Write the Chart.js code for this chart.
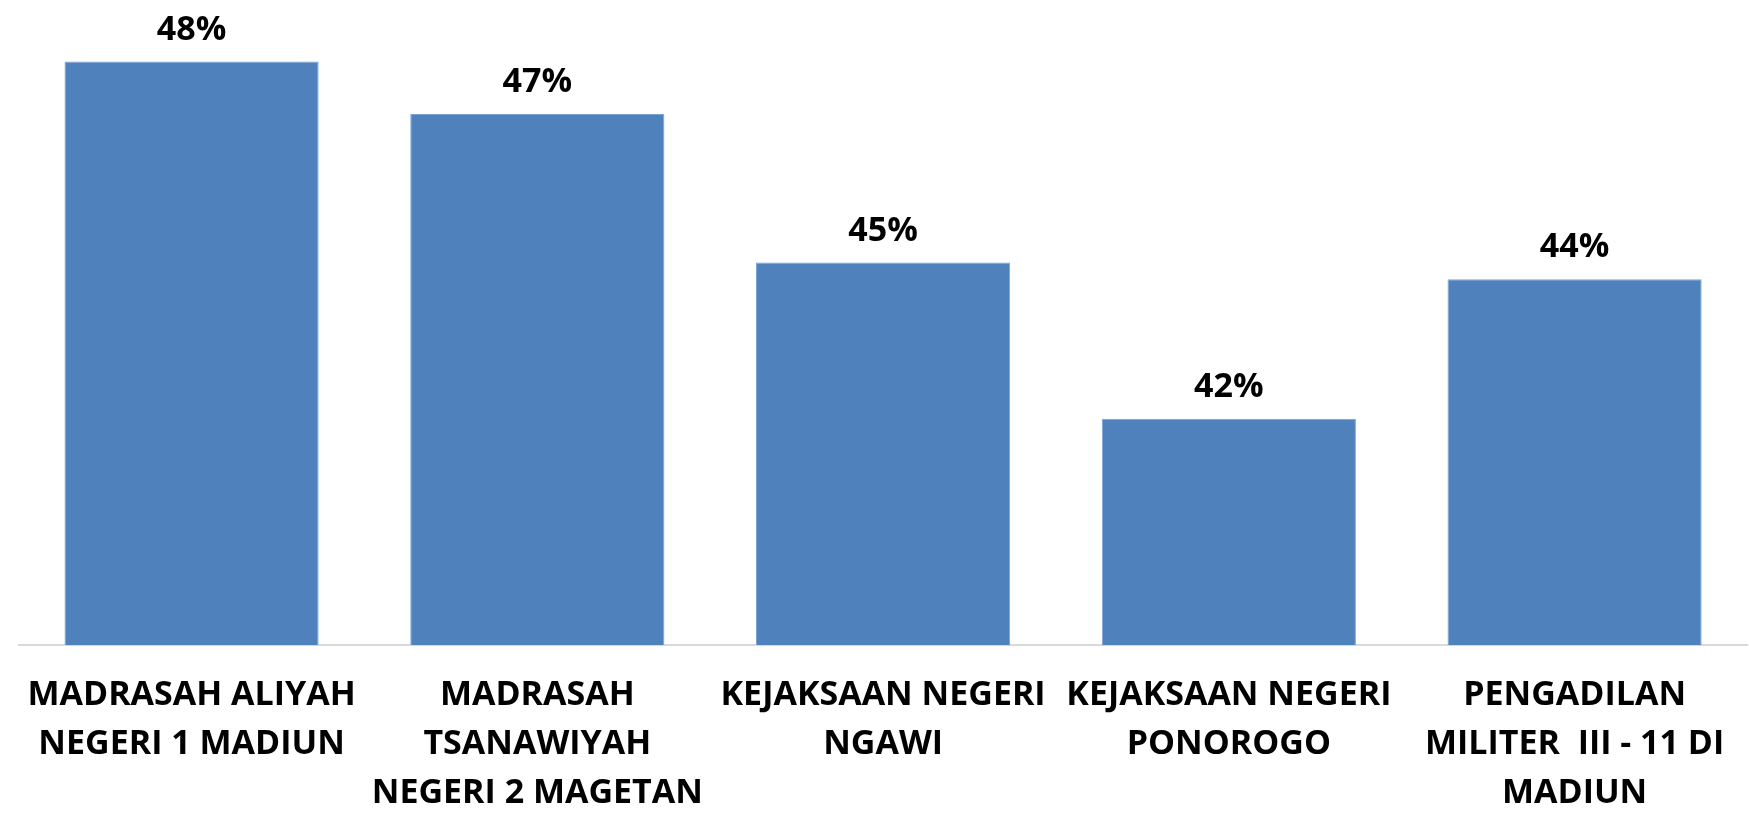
<!DOCTYPE html>
<html>
<head>
<meta charset="utf-8">
<script src="https://cdn.jsdelivr.net/npm/chart.js@4/dist/chart.umd.min.js"></script>
<style>
  html, body { margin: 0; padding: 0; background: #ffffff; overflow: hidden; }
  #wrap { width: 1749px; height: 822px; overflow: hidden; }
</style>
</head>
<body>
<div id="wrap"><canvas id="c" width="1750" height="822"></canvas></div>
<script>
const categories = [
  ["MADRASAH ALIYAH", "NEGERI 1 MADIUN"],
  ["MADRASAH", "TSANAWIYAH", "NEGERI 2 MAGETAN"],
  ["KEJAKSAAN NEGERI", "NGAWI"],
  ["KEJAKSAAN NEGERI", "PONOROGO"],
  ["PENGADILAN", "MILITER  III - 11 DI", "MADIUN"]
];
const values = [48.13, 47.22, 44.64, 41.93, 44.35];
const axisMin = 38;
const axisMax = 49.2;

const FONT = "'Open Sans', 'Liberation Sans', sans-serif";

const valueLabels = {
  id: 'valueLabels',
  afterDatasetsDraw(chart) {
    const ctx = chart.ctx;
    const meta = chart.getDatasetMeta(0);
    ctx.save();
    ctx.fillStyle = '#000000';
    ctx.font = "bold 34px " + FONT;
    ctx.textAlign = 'center';
    ctx.textBaseline = 'alphabetic';
    meta.data.forEach((bar, i) => {
      const v = chart.data.datasets[0].data[i];
      ctx.fillText(Math.round(v) + '%', bar.x, bar.y - 22);
    });
    ctx.restore();
  }
};

new Chart(document.getElementById('c'), {
  type: 'bar',
  data: {
    labels: categories,
    datasets: [{
      data: values,
      backgroundColor: '#4f81bd',
      borderColor: '#7aa3d6',
      borderWidth: 1,
      categoryPercentage: 1.0,
      barPercentage: 0.735
    }]
  },
  options: {
    responsive: false,
    animation: false,
    layout: { padding: { left: 17, right: 0, top: 0, bottom: 0 } },
    plugins: {
      legend: { display: false },
      tooltip: { enabled: false }
    },
    scales: {
      y: {
        display: false,
        min: axisMin,
        max: axisMax
      },
      x: {
        grid: { display: false, drawTicks: false },
        border: { display: true, color: '#d9d9d9', width: 2 },
        ticks: {
          color: '#000000',
          autoSkip: false,
          maxRotation: 0,
          minRotation: 0,
          padding: 26,
          font: { family: FONT, size: 34, weight: 'bold', lineHeight: '49px' }
        },
        afterFit(scale) { scale.height = 177; }
      }
    }
  },
  plugins: [valueLabels]
});
</script>
</body>
</html>
